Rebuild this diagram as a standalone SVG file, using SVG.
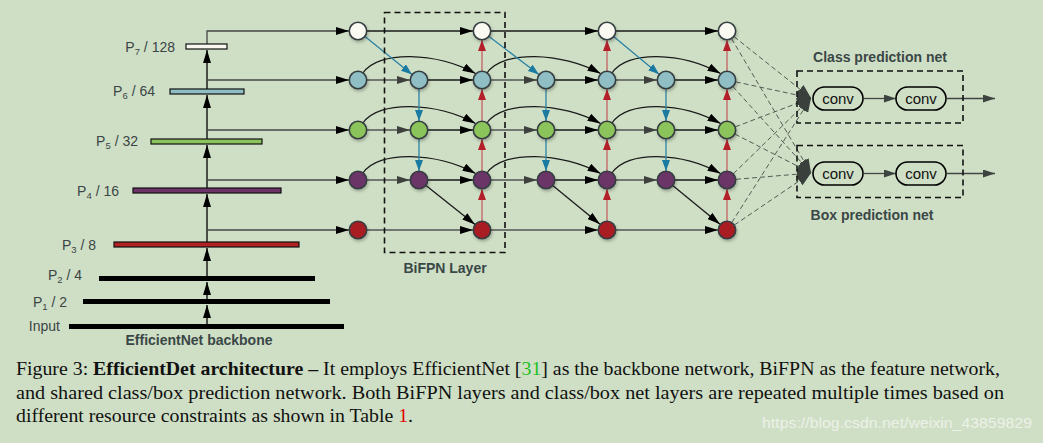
<svg xmlns="http://www.w3.org/2000/svg" width="1043" height="443" viewBox="0 0 1043 443">
<defs>
<style>
.lbl{font-family:"Liberation Sans",Arial,sans-serif;font-size:14px;fill:#3b4545}
.bold{font-family:"Liberation Sans",Arial,sans-serif;font-weight:bold;font-size:14px;fill:#3a4747}
.cap{font-family:"Liberation Serif","Times New Roman",serif;font-size:19px;fill:#111}
.node{stroke:#343c40;stroke-width:1.6;filter:url(#sh)}
.bb{stroke:#000;stroke-width:1.3}
.k{stroke:#1a1a1a;stroke-width:1.3;fill:none}
.g{stroke:#555;stroke-width:1.3;fill:none}
.blue{stroke:#2a82a6;stroke-width:1.3;fill:none}
.red{stroke:#c46a6a;stroke-width:1.4;fill:none}
.dash{stroke:#555b55;stroke-width:1;stroke-dasharray:5,3;fill:none}
.box{stroke:#111;stroke-width:1.6;stroke-dasharray:6,4;fill:none}
.conv{fill:none;stroke:#000;stroke-width:1.6}
.ct{font-family:"Liberation Sans",Arial,sans-serif;font-size:15px;fill:#111}
</style>
<filter id="sh" x="-50%" y="-50%" width="200%" height="200%"><feDropShadow dx="1" dy="2" stdDeviation="1.5" flood-color="#000" flood-opacity="0.25"/></filter>
<marker id="ak" markerWidth="13" markerHeight="8" refX="13" refY="4" orient="auto" markerUnits="userSpaceOnUse"><path d="M0,0 L13,4 L0,8 z" fill="#000"/></marker>
<marker id="ag" markerWidth="13" markerHeight="8" refX="13" refY="4" orient="auto" markerUnits="userSpaceOnUse"><path d="M0,0 L13,4 L0,8 z" fill="#3d403d"/></marker>
<marker id="ab" markerWidth="11" markerHeight="8" refX="11" refY="4" orient="auto" markerUnits="userSpaceOnUse"><path d="M0,0 L11,4 L0,8 z" fill="#1a7aa0"/></marker>
<marker id="ar" markerWidth="11" markerHeight="8" refX="11" refY="4" orient="auto" markerUnits="userSpaceOnUse"><path d="M0,0 L11,4 L0,8 z" fill="#b3202a"/></marker>
<marker id="ad" markerWidth="14" markerHeight="11" refX="14" refY="5.5" orient="auto" markerUnits="userSpaceOnUse"><path d="M0,0 L14,5.5 L0,11 z" fill="#3a403c"/></marker>
<marker id="ac" markerWidth="12" markerHeight="8" refX="12" refY="4" orient="auto" markerUnits="userSpaceOnUse"><path d="M0,0 L12,4 L0,8 z" fill="#3d433f"/></marker>
</defs>
<rect width="1043" height="443" fill="#cfdfc5"/>

<g id="connectors">
<g class="bb" fill="none">
<line x1="207" y1="324" x2="207" y2="305" marker-end="url(#ak)"/>
<line x1="207" y1="299" x2="207" y2="282" marker-end="url(#ak)"/>
<line x1="207" y1="276" x2="207" y2="248" marker-end="url(#ak)"/>
<line x1="207" y1="242" x2="207" y2="194" marker-end="url(#ak)"/>
<line x1="207" y1="188" x2="207" y2="145" marker-end="url(#ak)"/>
<line x1="207" y1="139" x2="207" y2="95" marker-end="url(#ak)"/>
<line x1="207" y1="89" x2="207" y2="50" marker-end="url(#ak)"/>
<path d="M207,44 V31 H349" marker-end="url(#ak)" stroke="#444"/>
<line x1="207" y1="80" x2="349" y2="80" marker-end="url(#ak)" stroke="#444"/>
<line x1="207" y1="130" x2="349" y2="130" marker-end="url(#ak)" stroke="#444"/>
<line x1="207" y1="180" x2="349" y2="180" marker-end="url(#ak)" stroke="#444"/>
<line x1="207" y1="230" x2="349" y2="230" marker-end="url(#ak)" stroke="#444"/>
</g>
<g>
<line class="k" x1="367" y1="31" x2="473" y2="31" marker-end="url(#ak)"/>
<line class="g" x1="367" y1="230" x2="473" y2="230" marker-end="url(#ak)"/>
<line class="g" x1="367" y1="80" x2="410" y2="80" marker-end="url(#ag)"/>
<line class="g" x1="367" y1="130" x2="410" y2="130" marker-end="url(#ag)"/>
<line class="g" x1="367" y1="180" x2="410" y2="180" marker-end="url(#ag)"/>
<line class="k" x1="428" y1="80" x2="473" y2="80" marker-end="url(#ak)"/>
<line class="k" x1="428" y1="130" x2="473" y2="130" marker-end="url(#ak)"/>
<line class="k" x1="428" y1="180" x2="473" y2="180" marker-end="url(#ak)"/>
<path class="k" d="M363,73 C378,50 437,52 475.5,73.5" marker-end="url(#ak)"/>
<path class="k" d="M363,123 C378,100 437,102 475.5,123.5" marker-end="url(#ak)"/>
<path class="k" d="M363,173 C378,150 437,152 475.5,173.5" marker-end="url(#ak)"/>
<line class="blue" x1="365" y1="36.6" x2="412" y2="74.4" marker-end="url(#ab)"/>
<line class="blue" x1="419" y1="89" x2="419" y2="121" marker-end="url(#ab)"/>
<line class="blue" x1="419" y1="139" x2="419" y2="171" marker-end="url(#ab)"/>
<line class="k" x1="426" y1="185.6" x2="475" y2="224.4" marker-end="url(#ak)"/>
<line class="red" x1="482" y1="221" x2="482" y2="189" marker-end="url(#ar)"/>
<line class="red" x1="482" y1="171" x2="482" y2="139" marker-end="url(#ar)"/>
<line class="red" x1="482" y1="121" x2="482" y2="89" marker-end="url(#ar)"/>
<line class="red" x1="482" y1="71" x2="482" y2="40" marker-end="url(#ar)"/>
</g>
<g>
<line class="k" x1="491" y1="31" x2="598" y2="31" marker-end="url(#ak)"/>
<line class="g" x1="491" y1="230" x2="598" y2="230" marker-end="url(#ak)"/>
<line class="g" x1="491" y1="80" x2="537" y2="80" marker-end="url(#ag)"/>
<line class="g" x1="491" y1="130" x2="537" y2="130" marker-end="url(#ag)"/>
<line class="g" x1="491" y1="180" x2="537" y2="180" marker-end="url(#ag)"/>
<line class="k" x1="555" y1="80" x2="598" y2="80" marker-end="url(#ak)"/>
<line class="k" x1="555" y1="130" x2="598" y2="130" marker-end="url(#ak)"/>
<line class="k" x1="555" y1="180" x2="598" y2="180" marker-end="url(#ak)"/>
<path class="k" d="M487,73 C502,50 562,52 600.5,73.5" marker-end="url(#ak)"/>
<path class="k" d="M487,123 C502,100 562,102 600.5,123.5" marker-end="url(#ak)"/>
<path class="k" d="M487,173 C502,150 562,152 600.5,173.5" marker-end="url(#ak)"/>
<line class="blue" x1="489.1" y1="36.5" x2="538.9" y2="74.5" marker-end="url(#ab)"/>
<line class="blue" x1="546" y1="89" x2="546" y2="121" marker-end="url(#ab)"/>
<line class="blue" x1="546" y1="139" x2="546" y2="171" marker-end="url(#ab)"/>
<line class="k" x1="553" y1="185.8" x2="600" y2="224.2" marker-end="url(#ak)"/>
<line class="red" x1="607" y1="221" x2="607" y2="189" marker-end="url(#ar)"/>
<line class="red" x1="607" y1="171" x2="607" y2="139" marker-end="url(#ar)"/>
<line class="red" x1="607" y1="121" x2="607" y2="89" marker-end="url(#ar)"/>
<line class="red" x1="607" y1="71" x2="607" y2="40" marker-end="url(#ar)"/>
</g>
<g>
<line class="k" x1="616" y1="31" x2="718" y2="31" marker-end="url(#ak)"/>
<line class="g" x1="616" y1="230" x2="718" y2="230" marker-end="url(#ak)"/>
<line class="g" x1="616" y1="80" x2="657" y2="80" marker-end="url(#ag)"/>
<line class="g" x1="616" y1="130" x2="657" y2="130" marker-end="url(#ag)"/>
<line class="g" x1="616" y1="180" x2="657" y2="180" marker-end="url(#ag)"/>
<line class="k" x1="675" y1="80" x2="718" y2="80" marker-end="url(#ak)"/>
<line class="k" x1="675" y1="130" x2="718" y2="130" marker-end="url(#ak)"/>
<line class="k" x1="675" y1="180" x2="718" y2="180" marker-end="url(#ak)"/>
<path class="k" d="M612,73 C627,50 682,52 720.5,73.5" marker-end="url(#ak)"/>
<path class="k" d="M612,123 C627,100 682,102 720.5,123.5" marker-end="url(#ak)"/>
<path class="k" d="M612,173 C627,150 682,152 720.5,173.5" marker-end="url(#ak)"/>
<line class="blue" x1="613.9" y1="36.8" x2="659.1" y2="74.2" marker-end="url(#ab)"/>
<line class="blue" x1="666" y1="89" x2="666" y2="121" marker-end="url(#ab)"/>
<line class="blue" x1="666" y1="139" x2="666" y2="171" marker-end="url(#ab)"/>
<line class="k" x1="673" y1="185.8" x2="720" y2="224.2" marker-end="url(#ak)"/>
<line class="red" x1="727" y1="221" x2="727" y2="189" marker-end="url(#ar)"/>
<line class="red" x1="727" y1="171" x2="727" y2="139" marker-end="url(#ar)"/>
<line class="red" x1="727" y1="121" x2="727" y2="89" marker-end="url(#ar)"/>
<line class="red" x1="727" y1="71" x2="727" y2="40" marker-end="url(#ar)"/>
</g>
<g>
<line class="dash" x1="734" y1="36.6" x2="811" y2="98" marker-end="url(#ad)"/>
<line class="dash" x1="735.8" y1="81.9" x2="811" y2="98" marker-end="url(#ad)"/>
<line class="dash" x1="735.4" y1="126.8" x2="811" y2="98" marker-end="url(#ad)"/>
<line class="dash" x1="733.4" y1="173.7" x2="811" y2="98" marker-end="url(#ad)"/>
<line class="dash" x1="731.8" y1="222.4" x2="811" y2="98" marker-end="url(#ad)"/>
<line class="dash" x1="731.6" y1="38.7" x2="811" y2="173" marker-end="url(#ad)"/>
<line class="dash" x1="733" y1="86.7" x2="811" y2="173" marker-end="url(#ad)"/>
<line class="dash" x1="735" y1="134.1" x2="811" y2="173" marker-end="url(#ad)"/>
<line class="dash" x1="736" y1="179.3" x2="811" y2="173" marker-end="url(#ad)"/>
<line class="dash" x1="734.5" y1="224.9" x2="811" y2="173" marker-end="url(#ad)"/>
</g>
<g stroke="#444" stroke-width="1.3">
<line x1="864" y1="98.5" x2="896" y2="98.5" marker-end="url(#ac)"/>
<line x1="947" y1="98.5" x2="995" y2="98.5" marker-end="url(#ac)"/>
<line x1="864" y1="173.5" x2="896" y2="173.5" marker-end="url(#ac)"/>
<line x1="947" y1="173.5" x2="995" y2="173.5" marker-end="url(#ac)"/>
</g>
</g>

<g id="backbone">
<rect x="186" y="44" width="41" height="5" fill="#f8f8f0" stroke="#111" stroke-width="1.2"/>
<rect x="170" y="89" width="74" height="5" fill="#8fbfc4" stroke="#111" stroke-width="1.2"/>
<rect x="151" y="139" width="111" height="5" fill="#8bc45a" stroke="#111" stroke-width="1.2"/>
<rect x="133" y="188" width="148" height="5" fill="#6c3468" stroke="#111" stroke-width="1.2"/>
<rect x="114" y="242" width="185" height="5" fill="#b22222" stroke="#111" stroke-width="1.2"/>
<rect x="99" y="276" width="216" height="5" fill="#000"/>
<rect x="83" y="299" width="247" height="5" fill="#000"/>
<rect x="69" y="324" width="275" height="5" fill="#000"/>
<text class="lbl" x="175" y="52" text-anchor="end">P<tspan dy="3" font-size="9.5">7</tspan><tspan dy="-3"> / 128</tspan></text>
<text class="lbl" x="155" y="96" text-anchor="end">P<tspan dy="3" font-size="9.5">6</tspan><tspan dy="-3"> / 64</tspan></text>
<text class="lbl" x="138" y="146" text-anchor="end">P<tspan dy="3" font-size="9.5">5</tspan><tspan dy="-3"> / 32</tspan></text>
<text class="lbl" x="119" y="196" text-anchor="end">P<tspan dy="3" font-size="9.5">4</tspan><tspan dy="-3"> / 16</tspan></text>
<text class="lbl" x="96" y="250" text-anchor="end">P<tspan dy="3" font-size="9.5">3</tspan><tspan dy="-3"> / 8</tspan></text>
<text class="lbl" x="82" y="280" text-anchor="end">P<tspan dy="3" font-size="9.5">2</tspan><tspan dy="-3"> / 4</tspan></text>
<text class="lbl" x="67" y="307" text-anchor="end">P<tspan dy="3" font-size="9.5">1</tspan><tspan dy="-3"> / 2</tspan></text>
<text class="lbl" x="60" y="331" text-anchor="end">Input</text>
<text class="bold" x="199" y="345" text-anchor="middle">EfficientNet backbone</text>
</g>

<g id="bifpn-box">
<rect class="box" x="384.5" y="12.5" width="120.5" height="240"/>
<text class="bold" x="445" y="273" text-anchor="middle">BiFPN Layer</text>
</g>

<g id="nodes">
<g id="c0"><circle class="node" cx="358" cy="31" r="8.7" fill="#fafaf2"/><circle class="node" cx="358" cy="80" r="8.7" fill="#8fbfc4"/><circle class="node" cx="358" cy="130" r="8.7" fill="#8bc45a"/><circle class="node" cx="358" cy="180" r="8.7" fill="#6c3468"/><circle class="node" cx="358" cy="230" r="8.7" fill="#a81e24"/></g>
<g id="m1"><circle class="node" cx="419" cy="80" r="8.7" fill="#8fbfc4"/><circle class="node" cx="419" cy="130" r="8.7" fill="#8bc45a"/><circle class="node" cx="419" cy="180" r="8.7" fill="#6c3468"/></g>
<g id="c1"><circle class="node" cx="482" cy="31" r="8.7" fill="#fafaf2"/><circle class="node" cx="482" cy="80" r="8.7" fill="#8fbfc4"/><circle class="node" cx="482" cy="130" r="8.7" fill="#8bc45a"/><circle class="node" cx="482" cy="180" r="8.7" fill="#6c3468"/><circle class="node" cx="482" cy="230" r="8.7" fill="#a81e24"/></g>
<g id="m2"><circle class="node" cx="546" cy="80" r="8.7" fill="#8fbfc4"/><circle class="node" cx="546" cy="130" r="8.7" fill="#8bc45a"/><circle class="node" cx="546" cy="180" r="8.7" fill="#6c3468"/></g>
<g id="c2"><circle class="node" cx="607" cy="31" r="8.7" fill="#fafaf2"/><circle class="node" cx="607" cy="80" r="8.7" fill="#8fbfc4"/><circle class="node" cx="607" cy="130" r="8.7" fill="#8bc45a"/><circle class="node" cx="607" cy="180" r="8.7" fill="#6c3468"/><circle class="node" cx="607" cy="230" r="8.7" fill="#a81e24"/></g>
<g id="m3"><circle class="node" cx="666" cy="80" r="8.7" fill="#8fbfc4"/><circle class="node" cx="666" cy="130" r="8.7" fill="#8bc45a"/><circle class="node" cx="666" cy="180" r="8.7" fill="#6c3468"/></g>
<g id="c3"><circle class="node" cx="727" cy="31" r="8.7" fill="#fafaf2"/><circle class="node" cx="727" cy="80" r="8.7" fill="#8fbfc4"/><circle class="node" cx="727" cy="130" r="8.7" fill="#8bc45a"/><circle class="node" cx="727" cy="180" r="8.7" fill="#6c3468"/><circle class="node" cx="727" cy="230" r="8.7" fill="#a81e24"/></g>
</g>

<g id="class-net">
<rect class="box" x="797" y="71" width="166" height="52"/>
<text class="bold" x="880" y="62" text-anchor="middle">Class prediction net</text>
<rect class="conv" x="813" y="87" width="50" height="23" rx="11.5"/>
<text class="ct" x="838" y="104" text-anchor="middle">conv</text>
<rect class="conv" x="896" y="87" width="50" height="23" rx="11.5"/>
<text class="ct" x="921" y="104" text-anchor="middle">conv</text>
</g>
<g id="box-net">
<rect class="box" x="797" y="145.5" width="166" height="52"/>
<text class="bold" x="872" y="220" text-anchor="middle">Box prediction net</text>
<rect class="conv" x="813" y="162" width="50" height="23" rx="11.5"/>
<text class="ct" x="838" y="179" text-anchor="middle">conv</text>
<rect class="conv" x="896" y="162" width="50" height="23" rx="11.5"/>
<text class="ct" x="921" y="179" text-anchor="middle">conv</text>
</g>

<g id="caption">
<text class="cap" x="16" y="375" textLength="984" lengthAdjust="spacingAndGlyphs">Figure 3: <tspan font-weight="bold">EfficientDet architecture –</tspan> It employs EfficientNet [<tspan fill="#1fbf1f">31</tspan>] as the backbone network, BiFPN as the feature network,</text>
<text class="cap" x="16" y="399" textLength="988" lengthAdjust="spacingAndGlyphs">and shared class/box prediction network. Both BiFPN layers and class/box net layers are repeated multiple times based on</text>
<text class="cap" x="16" y="422" textLength="397" lengthAdjust="spacingAndGlyphs">different resource constraints as shown in Table <tspan fill="#e00000">1</tspan>.</text>
<text x="762" y="428" textLength="270" lengthAdjust="spacingAndGlyphs" font-family="'Liberation Sans',Arial,sans-serif" font-size="15" fill="#f2f5ef" fill-opacity="0.85">https://blog.csdn.net/weixin_43859829</text>
</g>
</svg>
